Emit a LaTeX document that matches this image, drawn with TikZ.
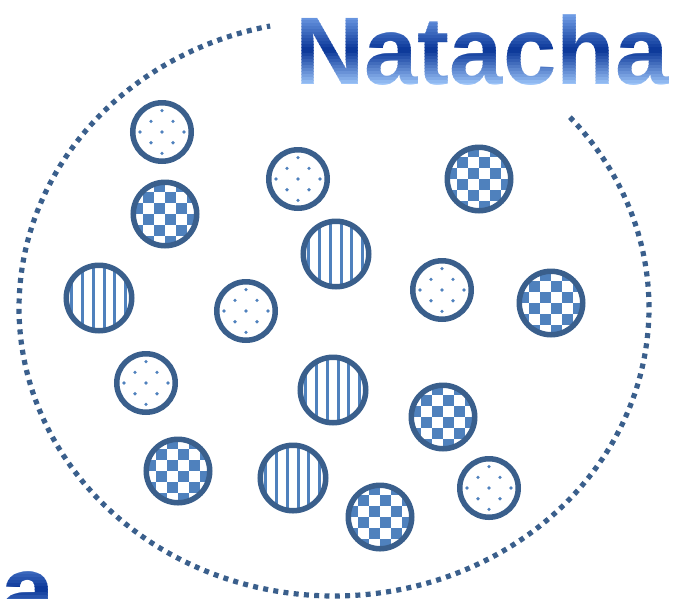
\documentclass[tikz,border=0pt]{standalone}
\usepackage{fontspec}
\setsansfont{Liberation Sans}
\definecolor{ringblue}{RGB}{58,95,140}
\definecolor{patblue}{RGB}{79,129,189}
\definecolor{titletop}{RGB}{110,155,228}
\definecolor{titlemid}{RGB}{8,52,150}
\definecolor{titlebot}{RGB}{155,195,248}
\tikzset{
  ring/.style={circle, draw=ringblue, line width=5.5pt, fill=white, inner sep=0pt},
  dotball/.style={ring, minimum size=58.5pt, path picture={
      \begin{scope}[shift={(path picture bounding box.center)}]
        \foreach \i in {-2,...,2} \foreach \j in {-3,...,3}
          \fill[patblue] ({\i*22+mod(\j,2)*11},{\j*10.7}) circle (1.8pt);
      \end{scope}}},
  checkball/.style={ring, minimum size=63.5pt, path picture={
      \begin{scope}[shift={(path picture bounding box.center)}]
        \foreach \i in {-4,-2,...,2} \foreach \j in {-4,-2,...,2} {
          \fill[patblue] (\i*11,\j*11) rectangle ++(11,11);
          \fill[patblue] (\i*11+11,\j*11+11) rectangle ++(11,11);
        }
      \end{scope}}},
  stripeball/.style={ring, minimum size=65.5pt, path picture={
      \begin{scope}[shift={(path picture bounding box.center)}]
        \foreach \i in {-3,...,3}
          \draw[patblue, line width=3pt] (\i*10.7+5,-40) -- (\i*10.7+5,40);
      \end{scope}}},
  rim/.style={draw=ringblue, line width=5.2pt, dash pattern=on 5pt off 5.3pt},
  titletext/.style={font=\sffamily\bfseries\fontsize{96}{96}\selectfont, inner sep=0pt, anchor=base}
}

\begin{document}
\begin{tikzpicture}[x=1pt,y=-1pt]
  \path[use as bounding box, clip] (0,0) rectangle (683,598);

  % dotted rim
  \draw[rim] plot[domain=-41.5:258.3, samples=240] ({334+315*cos(\x)},{308+288*sin(\x)});

  % title, shaded in thin bands
  \foreach \word/\bx/\by in {Natacha/482/84, a/28/623} {
    \foreach \k in {0,...,25} {
      \pgfmathsetmacro\yy{\by-73+3*\k}
      \pgfmathsetmacro\bandt{min(max((\yy+1.5-\by+68)/68,0),1)}
      \pgfmathtruncatemacro\pa{min(200*\bandt,100)}
      \pgfmathtruncatemacro\pb{max(200*\bandt-100,0)}
      \colorlet{bandcol}{titlemid!\pa!titletop}
      \colorlet{bandcol}{titlebot!\pb!bandcol}
      \begin{scope}
        \clip (\bx-200,\yy) rectangle (\bx+200,\yy+3.3);
        \node[titletext, text=bandcol] (title-\word) at (\bx,\by) {\word};
      \end{scope}
    }
  }

  % balls
  \node[dotball] (d1) at (162,132) {};
  \node[dotball] (d2) at (298,179) {};
  \node[dotball] (d3) at (246,311) {};
  \node[dotball] (d4) at (442,290) {};
  \node[dotball] (d5) at (146,383) {};
  \node[dotball] (d6) at (489,488) {};
  \node[checkball] (k1) at (165,214) {};
  \node[checkball] (k2) at (479,179) {};
  \node[checkball] (k3) at (551,303) {};
  \node[checkball] (k4) at (443,417) {};
  \node[checkball] (k5) at (178,471) {};
  \node[checkball] (k6) at (380,517) {};
  \node[stripeball] (s1) at (336,254) {};
  \node[stripeball] (s2) at (99,298) {};
  \node[stripeball] (s3) at (333,390) {};
  \node[stripeball] (s4) at (293,478) {};
\end{tikzpicture}
\end{document}
